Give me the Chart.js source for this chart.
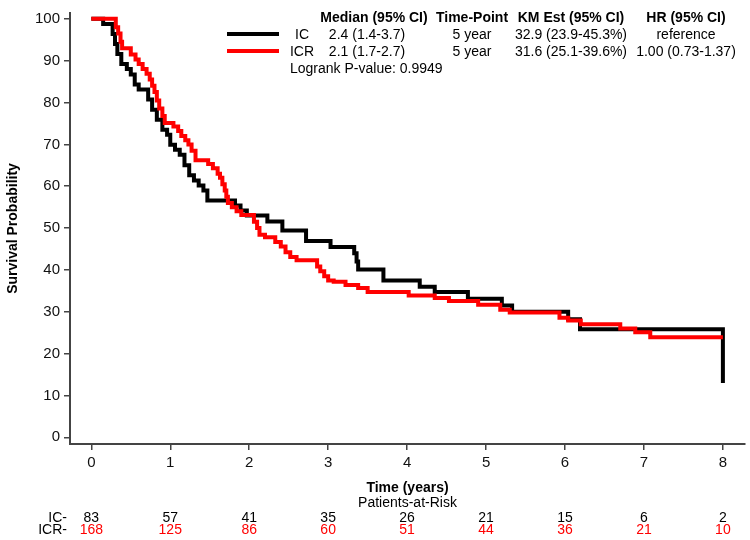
<!DOCTYPE html>
<html>
<head>
<meta charset="utf-8">
<script src="https://cdn.jsdelivr.net/npm/chart.js@4"></script>
<style>
  html, body { margin: 0; padding: 0; background: #fff; }
  #wrap { width: 750px; height: 540px; }
</style>
</head>
<body>
<div id="wrap"><canvas id="kmChart" width="750" height="540"></canvas></div>
<script>
// Kaplan-Meier estimates (time in years, survival %)
const icTime = [0, 0.15, 0.27, 0.30, 0.33, 0.38, 0.45, 0.50, 0.55, 0.60, 0.72, 0.77, 0.83, 0.90, 0.96,
  1.00, 1.06, 1.12, 1.18, 1.24, 1.30, 1.36, 1.42, 1.47, 1.82, 1.89, 1.97, 2.23, 2.42, 2.72,
  3.03, 3.33, 3.36, 3.38, 3.70, 4.16, 4.35, 4.77, 5.20, 5.33, 6.04, 6.19, 8.00];
const icSurv = [100, 98.8, 96.4, 94.0, 91.6, 89.2, 88.0, 86.7, 84.3, 83.1, 80.7, 78.3, 75.9, 73.5, 72.3,
  69.9, 68.7, 67.5, 65.0, 62.6, 61.4, 60.2, 59.0, 56.6, 55.4, 54.2, 53.0, 51.6, 49.4, 46.9,
  45.5, 44.0, 42.0, 40.1, 37.5, 36.0, 34.7, 33.1, 31.5, 30.0, 28.2, 25.8, 13.0];

const icrTime = [0, 0.31, 0.34, 0.37, 0.39, 0.50, 0.56, 0.60, 0.65, 0.70, 0.74, 0.77, 0.80, 0.83, 0.86,
  0.90, 0.93, 1.04, 1.10, 1.14, 1.19, 1.23, 1.27, 1.32, 1.48, 1.54, 1.60, 1.63, 1.66, 1.69,
  1.71, 1.73, 1.78, 1.84, 1.90, 2.06, 2.10, 2.13, 2.20, 2.33, 2.40, 2.46, 2.52, 2.60, 2.86,
  2.90, 2.95, 3.00, 3.07, 3.22, 3.38, 3.50, 4.02, 4.35, 4.53, 4.90, 5.18, 5.30, 5.93, 6.04,
  6.20, 6.70, 6.89, 7.08, 8.00];
const icrSurv = [100, 98.0, 96.5, 94.5, 93.0, 91.5, 90.3, 89.2, 88.0, 86.9, 85.5, 84.0, 82.5, 80.5, 78.6,
  76.8, 75.1, 74.3, 73.2, 72.0, 71.0, 70.0, 68.5, 66.2, 65.3, 64.3, 63.0, 62.0, 60.5, 59.0,
  57.5, 56.0, 55.0, 54.0, 53.1, 51.5, 50.0, 48.4, 47.8, 46.7, 45.6, 44.2, 43.1, 42.3, 40.8,
  39.7, 38.5, 37.5, 37.2, 36.4, 35.7, 34.7, 33.9, 33.3, 32.6, 31.7, 30.5, 29.8, 28.6, 27.9,
  27.0, 26.0, 25.1, 23.9, 23.9];

const xTicks = [0, 1, 2, 3, 4, 5, 6, 7, 8];
const yTicks = [0, 10, 20, 30, 40, 50, 60, 70, 80, 90, 100];

// patients at risk at each x tick
const icRisk = [83, 57, 41, 35, 26, 21, 15, 6, 2];
const icrRisk = [168, 125, 86, 60, 51, 44, 36, 21, 10];

const legendHead = ['Median (95% CI)', 'Time-Point', 'KM Est (95% CI)', 'HR (95% CI)'];
const icRow = ['2.4 (1.4-3.7)', '5 year', '32.9 (23.9-45.3%)', 'reference'];
const icrRow = ['2.1 (1.7-2.7)', '5 year', '31.6 (25.1-39.6%)', '1.00 (0.73-1.37)'];
const logrankText = 'Logrank P-value: 0.9949';

const FONT = '"Liberation Sans", Arial, Helvetica, sans-serif';
const RED = '#ff0000';

function toPoints(t, s) {
  return t.map((v, i) => ({ x: v, y: s[i] }));
}

// draws legend table, axis titles and the at-risk table
const extras = {
  id: 'extras',
  afterDraw(chart) {
    const ctx = chart.ctx;
    const xs = chart.scales.x;
    const area = chart.chartArea;
    ctx.save();

    // legend
    ctx.lineWidth = 4;
    ctx.strokeStyle = '#000';
    ctx.beginPath(); ctx.moveTo(227, 34); ctx.lineTo(279, 34); ctx.stroke();
    ctx.strokeStyle = RED;
    ctx.beginPath(); ctx.moveTo(227, 51); ctx.lineTo(279, 51); ctx.stroke();

    const colX = [374, 472, 571, 686];
    ctx.fillStyle = '#000';
    ctx.textAlign = 'center';
    ctx.textBaseline = 'middle';
    ctx.font = 'bold 14px ' + FONT;
    legendHead.forEach((h, i) => ctx.fillText(h, colX[i], 18));
    ctx.font = '14px ' + FONT;
    ctx.fillText('IC', 302, 35);
    ctx.fillText('ICR', 302, 52);
    const rowX = [367, 472, 571, 686];
    icRow.forEach((v, i) => ctx.fillText(v, rowX[i], 35));
    icrRow.forEach((v, i) => ctx.fillText(v, rowX[i], 52));
    ctx.textAlign = 'left';
    ctx.fillText(logrankText, 290, 69);

    // axis titles
    const midX = (area.left + area.right) / 2;
    ctx.textAlign = 'center';
    ctx.font = 'bold 14px ' + FONT;
    ctx.fillText('Time (years)', midX, 488);
    ctx.font = '14px ' + FONT;
    ctx.fillText('Patients-at-Risk', midX, 503);

    ctx.save();
    ctx.translate(13, (area.top + area.bottom) / 2);
    ctx.rotate(-Math.PI / 2);
    ctx.font = 'bold 14px ' + FONT;
    ctx.fillText('Survival Probability', 0, 0);
    ctx.restore();

    // patients at risk
    ctx.font = '14px ' + FONT;
    ctx.textAlign = 'right';
    ctx.fillStyle = '#000';
    ctx.fillText('IC-', 67, 518);
    ctx.fillText('ICR-', 67, 530);
    ctx.textAlign = 'center';
    xTicks.forEach((t, i) => {
      const px = xs.getPixelForValue(t);
      ctx.fillStyle = '#000';
      ctx.fillText(String(icRisk[i]), px, 518);
      ctx.fillStyle = RED;
      ctx.fillText(String(icrRisk[i]), px, 530);
    });
    ctx.restore();
  }
};

const axisColor = '#444';

new Chart(document.getElementById('kmChart'), {
  type: 'line',
  data: {
    datasets: [
      {
        label: 'IC',
        data: toPoints(icTime, icSurv),
        borderColor: '#000',
        borderWidth: 4,
        stepped: 'before',
        pointRadius: 0,
        fill: false,
        clip: false,
        order: 2
      },
      {
        label: 'ICR',
        data: toPoints(icrTime, icrSurv),
        borderColor: RED,
        borderWidth: 4,
        stepped: 'before',
        pointRadius: 0,
        fill: false,
        clip: false,
        order: 1
      }
    ]
  },
  options: {
    responsive: false,
    animation: false,
    layout: { padding: { top: 5, right: 5, left: 0, bottom: 0 } },
    plugins: {
      legend: { display: false },
      tooltip: { enabled: false }
    },
    scales: {
      x: {
        type: 'linear',
        min: -0.27,
        max: 8.28,
        afterBuildTicks: (s) => { s.ticks = xTicks.map(v => ({ value: v })); },
        afterFit: (s) => { s.height = 96; },
        ticks: { font: { size: 15, family: FONT }, color: '#111', padding: 4 },
        grid: { drawOnChartArea: false, drawTicks: true, tickLength: 6, color: axisColor, lineWidth: 1.5 },
        border: { display: true, color: axisColor, width: 2 }
      },
      y: {
        type: 'linear',
        min: -1.6,
        max: 101.4,
        afterBuildTicks: (s) => { s.ticks = yTicks.map(v => ({ value: v })); },
        afterFit: (s) => { s.width = 70; },
        ticks: { font: { size: 15, family: FONT }, color: '#111', padding: 4 },
        grid: { drawOnChartArea: false, drawTicks: true, tickLength: 6, color: axisColor, lineWidth: 1.5 },
        border: { display: true, color: axisColor, width: 2 }
      }
    }
  },
  plugins: [extras]
});
</script>
</body>
</html>
